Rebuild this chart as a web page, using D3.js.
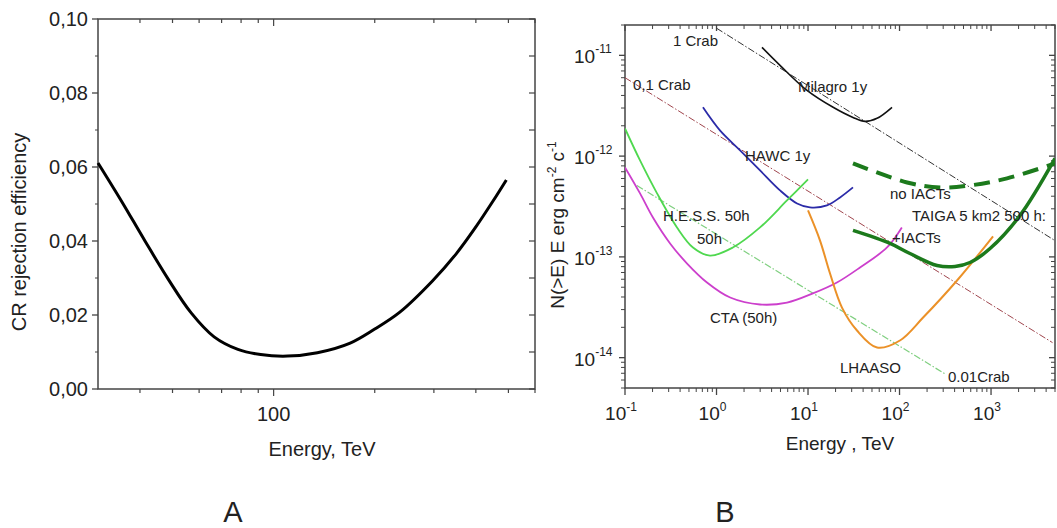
<!DOCTYPE html>
<html>
<head>
<meta charset="utf-8">
<script src="https://cdn.jsdelivr.net/npm/d3@7"></script>
<style>
  body { margin: 0; background: #fff; }
  text { font-family: Arial, 'Liberation Sans', sans-serif; fill: #222; }
</style>
</head>
<body>
<svg id="chart" width="1057" height="528"></svg>
<script>
// ---- panel A data: CR rejection efficiency vs energy (TeV)
var rejE = [30, 35.4, 41.4, 48.7, 56.9, 66.5, 78.3, 91.5, 110, 135, 169, 200, 237, 297, 350, 400, 450, 493];
var rejVal = [0.0611, 0.0505, 0.0400, 0.0295, 0.0205, 0.0141, 0.0107, 0.0093, 0.0089, 0.0098, 0.0124, 0.0162, 0.0207, 0.0292, 0.0366, 0.0438, 0.0508, 0.0565];
var rejYTicks = [0, 0.02, 0.04, 0.06, 0.08, 0.10];
var rejXTicks = [40, 50, 60, 70, 80, 90, 100, 200, 300, 400, 500, 600];

// ---- panel B data: integral sensitivity, E in TeV, flux in erg cm^-2 s^-1
var crab1E = [1, 5000], crab1F = [1.86e-11, 1.45e-13];
var crab01E = [0.1, 4700], crab01F = [6.0e-12, 1.41e-14];
var crab001E = [0.135, 314], crab001F = [5.1e-13, 6.9e-15];
var milagroE = [3.14, 4.94, 9.75, 18.8, 31.0, 42.0, 56.8, 82.8];
var milagroF = [1.2e-11, 7.96e-12, 4.49e-12, 3.05e-12, 2.42e-12, 2.21e-12, 2.37e-12, 3.05e-12];
var hawcE = [0.711, 1.09, 1.81, 2.99, 4.94, 7.59, 10.5, 16.1, 22.4, 31.0];
var hawcF = [3.05e-12, 1.80e-12, 1.14e-12, 7.21e-13, 4.57e-13, 3.39e-13, 3.10e-13, 3.24e-13, 3.89e-13, 4.89e-13];
var hessE = [0.1, 0.146, 0.224, 0.370, 0.553, 0.849, 1.51, 2.99, 5.89, 10.0];
var hessF = [1.88e-12, 9.06e-13, 4.27e-13, 1.96e-13, 1.24e-13, 1.03e-13, 1.24e-13, 1.96e-13, 3.63e-13, 5.87e-13];
var ctaE = [0.1, 0.146, 0.202, 0.311, 0.477, 0.787, 1.41, 2.99, 5.89, 11.3, 20.7, 37.0, 73.0, 106];
var ctaF = [7.73e-13, 4.27e-13, 2.46e-13, 1.36e-13, 8.59e-14, 5.57e-14, 3.95e-14, 3.37e-14, 3.52e-14, 4.34e-14, 5.57e-14, 7.85e-14, 1.24e-13, 1.96e-13];
var lhaasoE = [10.0, 13.5, 17.4, 23.5, 34.3, 56.8, 101, 181, 425, 1052];
var lhaasoF = [2.89e-13, 1.46e-13, 6.84e-14, 3.14e-14, 1.86e-14, 1.26e-14, 1.48e-14, 2.50e-14, 5.83e-14, 1.60e-13];
var taigaNoE = [31.0, 121, 277, 589, 1496, 5000];
var taigaNoF = [8.47e-13, 5.48e-13, 4.89e-13, 5.12e-13, 6.01e-13, 8.47e-13];
var taigaIactE = [31.0, 78.7, 130, 257, 404, 589, 975, 2075, 5000];
var taigaIactF = [1.83e-13, 1.36e-13, 1.08e-13, 8.22e-14, 8.03e-14, 8.79e-14, 1.21e-13, 2.58e-13, 9.48e-13];
var bXTickExp = [-1, 0, 1, 2, 3];
var bYTickExp = [-11, -12, -13, -14];

var svg = d3.select('#chart');
var axisColor = '#444';

function pts(xs, ys) { return xs.map(function(x, i) { return [x, ys[i]]; }); }

// ===================== panel A
var xA = d3.scaleLog().domain([30, 600]).range([98, 535]);
var yA = d3.scaleLinear().domain([0, 0.1]).range([389, 19]);
var gA = svg.append('g');

gA.append('rect').attr('x', 98).attr('y', 19).attr('width', 437).attr('height', 370)
  .attr('fill', 'none').attr('stroke', axisColor).attr('stroke-width', 1.5);

// left axis, major outward + minor
var yMinorA = d3.range(0.01, 0.1, 0.02);
gA.selectAll('.ytA').data(rejYTicks).enter().append('line')
  .attr('x1', 92).attr('x2', 98).attr('y1', function(d) { return yA(d); }).attr('y2', function(d) { return yA(d); })
  .attr('stroke', axisColor).attr('stroke-width', 1.3);
gA.selectAll('.ymA').data(yMinorA).enter().append('line')
  .attr('x1', 95).attr('x2', 98).attr('y1', function(d) { return yA(d); }).attr('y2', function(d) { return yA(d); })
  .attr('stroke', axisColor).attr('stroke-width', 1);
// right axis, inward
gA.selectAll('.yrA').data(rejYTicks.concat(yMinorA)).enter().append('line')
  .attr('x1', 529).attr('x2', 535).attr('y1', function(d) { return yA(d); }).attr('y2', function(d) { return yA(d); })
  .attr('stroke', axisColor).attr('stroke-width', 1.2);
gA.selectAll('.ylA').data(rejYTicks).enter().append('text')
  .attr('x', 88).attr('y', function(d) { return yA(d) + 7; })
  .attr('text-anchor', 'end').attr('font-size', '20px')
  .text(function(d) { return d3.format('.2f')(d).replace('.', ','); });

// bottom ticks outward, top ticks inward
gA.selectAll('.xbA').data(rejXTicks).enter().append('line')
  .attr('x1', function(d) { return xA(d); }).attr('x2', function(d) { return xA(d); })
  .attr('y1', 389).attr('y2', function(d) { return d === 100 ? 396 : 393; })
  .attr('stroke', axisColor).attr('stroke-width', 1.2);
gA.selectAll('.xtA').data(rejXTicks).enter().append('line')
  .attr('x1', function(d) { return xA(d); }).attr('x2', function(d) { return xA(d); })
  .attr('y1', 19).attr('y2', function(d) { return d === 100 ? 26 : 23; })
  .attr('stroke', axisColor).attr('stroke-width', 1.2);
gA.append('text').attr('x', xA(100)).attr('y', 421).attr('text-anchor', 'middle')
  .attr('font-size', '20px').text('100');

var lineA = d3.line().x(function(d) { return xA(d[0]); }).y(function(d) { return yA(d[1]); }).curve(d3.curveCatmullRom.alpha(0.5));
gA.append('path').attr('d', lineA(pts(rejE, rejVal)))
  .attr('fill', 'none').attr('stroke', '#000').attr('stroke-width', 3);

gA.append('text').attr('transform', 'translate(26,232) rotate(-90)').attr('text-anchor', 'middle')
  .attr('font-size', '20px').text('CR rejection efficiency');
gA.append('text').attr('x', 322).attr('y', 456).attr('text-anchor', 'middle')
  .attr('font-size', '20px').text('Energy, TeV');
gA.append('text').attr('x', 233).attr('y', 522).attr('text-anchor', 'middle')
  .attr('font-size', '29px').text('A');

// ===================== panel B
var xB = d3.scaleLog().domain([0.1, 5000]).range([625, 1055]);
var yB = d3.scaleLog().domain([5e-15, 2e-11]).range([388, 25]);
var gB = svg.append('g');

gB.append('rect').attr('x', 625).attr('y', 25).attr('width', 430).attr('height', 363)
  .attr('fill', 'none').attr('stroke', axisColor).attr('stroke-width', 1.5);

var xMinorB = [];
[-1, 0, 1, 2, 3].forEach(function(e) {
  for (var k = 2; k <= 9; k++) { var v = k * Math.pow(10, e); if (v <= 5000) xMinorB.push(v); }
});
var yMinorB = [];
[-15, -14, -13, -12, -11].forEach(function(e) {
  for (var k = 2; k <= 9; k++) { var v = k * Math.pow(10, e); if (v >= 5e-15 && v <= 2e-11) yMinorB.push(v); }
});
var xMajB = bXTickExp.map(function(e) { return Math.pow(10, e); });
var yMajB = bYTickExp.map(function(e) { return Math.pow(10, e); });

function tick(g, data, fx1, fx2, fy1, fy2, w) {
  g.selectAll(null).data(data).enter().append('line')
    .attr('x1', fx1).attr('x2', fx2).attr('y1', fy1).attr('y2', fy2)
    .attr('stroke', axisColor).attr('stroke-width', w);
}
var X = function(d) { return xB(d); }, Y = function(d) { return yB(d); };
// bottom outward
tick(gB, xMajB, X, X, 388, 395, 1.3);
tick(gB, xMinorB, X, X, 388, 392, 1);
// top inward
tick(gB, xMajB, X, X, 25, 31, 1.3);
tick(gB, xMinorB, X, X, 25, 29, 1);
// left outward
tick(gB, yMajB, 619, 625, Y, Y, 1.3);
tick(gB, yMinorB, 621, 625, Y, Y, 1);
// right inward
tick(gB, yMajB, 1049, 1055, Y, Y, 1.3);
tick(gB, yMinorB, 1051, 1055, Y, Y, 1);

var xl = gB.selectAll('.xlB').data(bXTickExp).enter().append('text')
  .attr('x', function(d) { return xB(Math.pow(10, d)) - 4; }).attr('y', 420)
  .attr('text-anchor', 'middle').attr('font-size', '19px');
xl.append('tspan').text('10');
xl.append('tspan').attr('dy', -9).attr('font-size', '12px').text(function(d) { return d; });

var yl = gB.selectAll('.ylB').data(bYTickExp).enter().append('text')
  .attr('x', 574).attr('y', function(d) { return yB(Math.pow(10, d)) + 8; })
  .attr('font-size', '19px');
yl.append('tspan').text('10');
yl.append('tspan').attr('dy', -10).attr('font-size', '12px').text(function(d) { return d; });

gB.append('defs').append('clipPath').attr('id', 'clipB').append('rect')
  .attr('x', 625).attr('y', 25).attr('width', 430).attr('height', 363);
var plot = gB.append('g').attr('clip-path', 'url(#clipB)');

var lineB = d3.line().x(function(d) { return xB(d[0]); }).y(function(d) { return yB(d[1]); }).curve(d3.curveCatmullRom.alpha(0.5));

var series = [
  {e: crab1E, f: crab1F, color: '#333', w: 1, dash: '7,2,1.5,2'},
  {e: crab01E, f: crab01F, color: '#a0464e', w: 1, dash: '7,2,1.5,2'},
  {e: crab001E, f: crab001F, color: '#7fcf7f', w: 1.2, dash: '7,2,1.5,2'},
  {e: milagroE, f: milagroF, color: '#111', w: 1.6},
  {e: hawcE, f: hawcF, color: '#2b2ba8', w: 1.8},
  {e: hessE, f: hessF, color: '#4fd84f', w: 1.8},
  {e: ctaE, f: ctaF, color: '#cc3fcc', w: 1.8},
  {e: lhaasoE, f: lhaasoF, color: '#eb9128', w: 2},
  {e: taigaNoE, f: taigaNoF, color: '#1c7a1c', w: 4, dash: '16,9'},
  {e: taigaIactE, f: taigaIactF, color: '#1c7a1c', w: 3.5}
];
series.forEach(function(s) {
  plot.append('path').attr('d', lineB(pts(s.e, s.f)))
    .attr('fill', 'none').attr('stroke', s.color).attr('stroke-width', s.w)
    .attr('stroke-dasharray', s.dash || null);
});

var labels = [
  ['1 Crab', 673, 46], ['0,1 Crab', 633, 90], ['Milagro 1y', 798, 92], ['HAWC 1y', 745, 161],
  ['H.E.S.S. 50h', 663, 221], ['50h', 697, 244], ['CTA (50h)', 710, 323], ['LHAASO', 840, 373],
  ['0.01Crab', 948, 382], ['no IACTs', 890, 199], ['TAIGA 5 km2 500 h:', 912, 221], ['+IACTs', 892, 243]
];
gB.selectAll('.lab').data(labels).enter().append('text')
  .attr('x', function(d) { return d[1]; }).attr('y', function(d) { return d[2]; })
  .attr('font-size', '15px').text(function(d) { return d[0]; });

var yt = gB.append('text').attr('transform', 'translate(564,225) rotate(-90)')
  .attr('text-anchor', 'middle').attr('font-size', '19px');
yt.append('tspan').text('N(>E) E erg cm');
yt.append('tspan').attr('dy', -8).attr('font-size', '12px').text('-2');
yt.append('tspan').attr('dy', 8).text(' c');
yt.append('tspan').attr('dy', -8).attr('font-size', '12px').text('-1');

gB.append('text').attr('x', 840).attr('y', 450).attr('text-anchor', 'middle')
  .attr('font-size', '19px').text('Energy , TeV');
gB.append('text').attr('x', 725).attr('y', 522).attr('text-anchor', 'middle')
  .attr('font-size', '29px').text('B');
</script>
</body>
</html>
